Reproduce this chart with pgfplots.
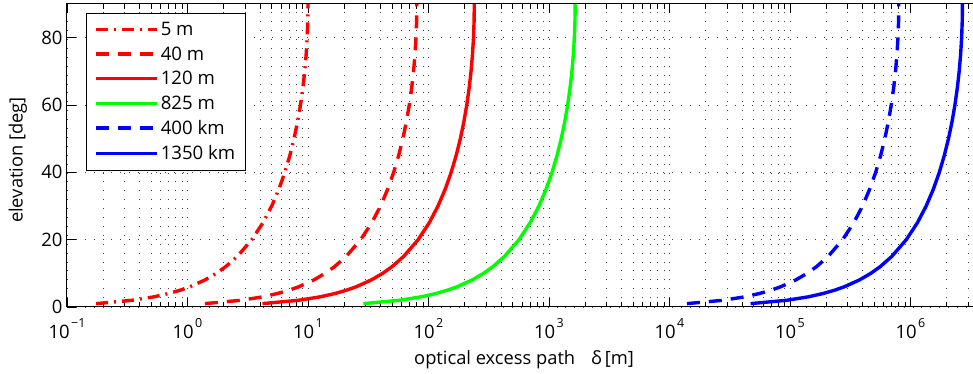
\documentclass[border=0pt]{standalone}
\usepackage{pgfplots}
\usepackage{pgfplotstable}
\pgfplotsset{compat=1.18}
\usepackage{fontspec}
\setmainfont{Open Sans}
\newcommand{\tenp}[1]{10\hspace{1.5pt}\raisebox{0.6em}{\fontsize{12.5}{13}\selectfont #1}}

% delta [m]   elevation [deg]
\pgfplotstableread{
d e
0.1745 1
0.349 2
0.5234 3
0.6976 4
0.8716 5
1.045 6
1.392 8
1.736 10
2.079 12
2.588 15
3.420 20
4.226 25
5.000 30
5.736 35
6.428 40
7.071 45
7.660 50
8.192 55
8.660 60
9.063 65
9.397 70
9.659 75
9.848 80
9.962 85
10.0 90
}\tabA
\pgfplotstableread{
d e
1.396 1
2.792 2
4.187 3
5.580 4
6.972 5
8.362 6
11.13 8
13.89 10
16.63 12
20.71 15
27.36 20
33.81 25
40.00 30
45.89 35
51.42 40
56.57 45
61.28 50
65.53 55
69.28 60
72.50 65
75.18 70
77.27 75
78.78 80
79.70 85
80.0 90
}\tabB
\pgfplotstableread{
d e
4.188 1
8.376 2
12.56 3
16.74 4
20.92 5
25.09 6
33.40 8
41.68 10
49.90 12
62.12 15
82.08 20
101.4 25
120.0 30
137.7 35
154.3 40
169.7 45
183.9 50
196.6 55
207.8 60
217.5 65
225.5 70
231.8 75
236.4 80
239.1 85
240.0 90
}\tabC
\pgfplotstableread{
d e
28.80 1
57.58 2
86.35 3
115.1 4
143.8 5
172.5 6
229.6 8
286.5 10
343.1 12
427.1 15
564.3 20
697.3 25
825.0 30
946.4 35
1060.6 40
1166.7 45
1264.0 50
1351.6 55
1428.9 60
1495.4 65
1550.5 70
1593.8 75
1624.9 80
1643.7 85
1650 90
}\tabD
\pgfplotstableread{
d e
13960 1
27920 2
41870 3
55800 4
69720 5
83620 6
111300 8
138900 10
166300 12
207100 15
273600 20
338100 25
400000 30
458900 35
514200 40
565700 45
612800 50
655300 55
692800 60
725000 65
751800 70
772700 75
787800 80
797000 85
800000 90
}\tabE
\pgfplotstableread{
d e
47120 1
94230 2
141300 3
188300 4
235300 5
282200 6
375800 8
468900 10
561400 12
698800 15
923500 20
1141000 25
1350000 30
1549000 35
1736000 40
1909000 45
2068000 50
2212000 55
2338000 60
2447000 65
2537000 70
2608000 75
2659000 80
2690000 85
2700000 90
}\tabF

\begin{document}
\begin{tikzpicture}
\begin{axis}[
  name=ax,
  xmode=log,
  scale only axis,
  width=916pt, height=303pt,
  xmin=0.1, xmax=4e6, ymin=0, ymax=90,
  xtick={0.1,1,10,100,1000,10000,100000,1000000},
  xticklabels={\tenp{−1},\tenp{0},\tenp{1},\tenp{2},\tenp{3},\tenp{4},\tenp{5},\tenp{6}},
  minor xtick={0.2,0.3,0.4,0.5,0.6,0.7,0.8,0.9,2,3,4,5,6,7,8,9,20,30,40,50,60,70,80,90,200,300,400,500,600,700,800,900,2000,3000,4000,5000,6000,7000,8000,9000,20000,30000,40000,50000,60000,70000,80000,90000,200000,300000,400000,500000,600000,700000,800000,900000,2000000,3000000},
  ytick={0,20,40,60,80},
  grid=both,
  major grid style={black!75, line width=0.9pt, dash pattern=on 0.9pt off 8pt},
  minor grid style={black!75, line width=0.9pt, dash pattern=on 0.9pt off 8pt},
  tick align=inside,
  major tick length=9pt, minor tick length=5pt,
  tick style={black, line width=0.8pt},
  axis line style={black, line width=1pt},
  every tick label/.append style={font=\fontsize{18.5}{21}\selectfont},
  xticklabel style={anchor=base, yshift=-32pt},
  yticklabel style={xshift=-1pt},
  /pgf/number format/assume math mode=true,
  xlabel={optical excess path\hspace{16pt}δ\,[m]},
  ylabel={elevation [deg]},
  every axis x label/.style={at={(rel axis cs:0.499,-0.1914)}, anchor=base, font=\fontsize{18.3}{21}\selectfont},
  every axis y label/.style={at={(rel axis cs:-0.0535,0.485)}, anchor=center, rotate=90, font=\fontsize{18.3}{21}\selectfont},
  legend style={at={(rel axis cs:0.0207,0.971)}, anchor=north west, draw=black, line width=0.8pt,
    font=\fontsize{18.6}{22}\selectfont, inner xsep=8pt, inner ysep=7pt, row sep=5.6pt, cells={anchor=west}},
  legend image code/.code={\draw[#1] (0pt,0pt) -- (61pt,0pt);},
  legend cell align=left,
]
\addplot[red, line width=3.4pt, dash pattern=on 12pt off 6pt on 2pt off 6pt] table[x=d,y=e] {\tabA};
\addlegendentry{5 m}
\addplot[red, line width=3.4pt, dash pattern=on 13pt off 9pt] table[x=d,y=e] {\tabB};
\addlegendentry{40 m}
\addplot[red, line width=3.4pt] table[x=d,y=e] {\tabC};
\addlegendentry{120 m}
\addplot[green, line width=3.4pt] table[x=d,y=e] {\tabD};
\addlegendentry{825 m}
\addplot[blue, line width=3.4pt, dash pattern=on 13pt off 9pt] table[x=d,y=e] {\tabE};
\addlegendentry{400 km}
\addplot[blue, line width=3.4pt] table[x=d,y=e] {\tabF};
\addlegendentry{1350 km}
\end{axis}
\pgfresetboundingbox
\path ([xshift=-67pt,yshift=-67pt]ax.south west) rectangle ([xshift=906pt,yshift=4pt]ax.north west);
\end{tikzpicture}
\end{document}
